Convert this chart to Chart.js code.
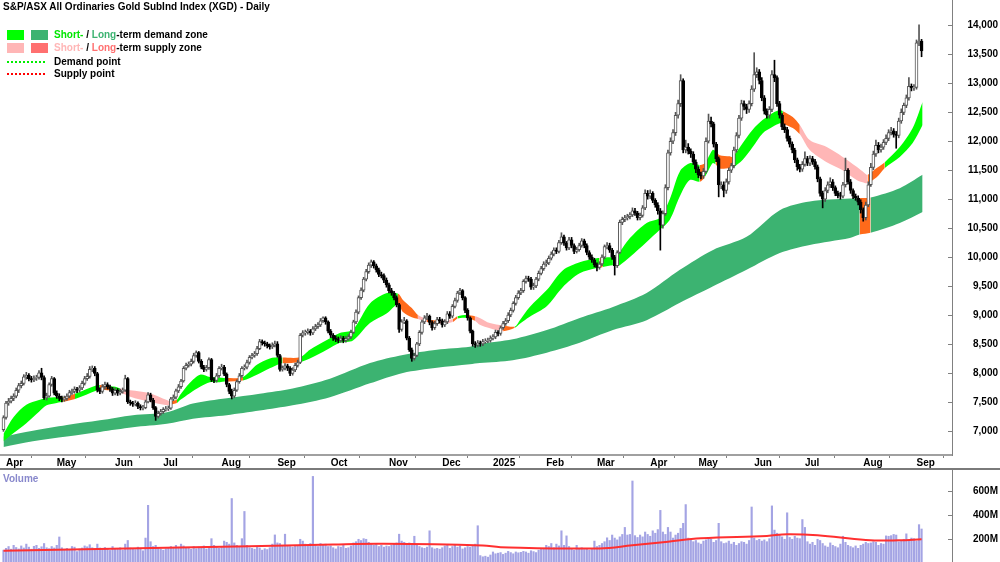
<!DOCTYPE html>
<html><head><meta charset="utf-8">
<script src="https://cdn.jsdelivr.net/npm/chart.js@4.4.1/dist/chart.umd.min.js"></script>
<style>
html,body{margin:0;padding:0;background:#fff;}
#wrap{position:relative;width:1000px;height:562px;overflow:hidden;font-family:"Liberation Sans",Arial,sans-serif;font-weight:bold;font-size:10px;color:#000;}
#c1{position:absolute;left:0;top:0;}
#c2{position:absolute;left:0;top:470px;}
.t{position:absolute;white-space:nowrap;line-height:12px;}
.box{position:absolute;width:17px;height:10px;}
.dot{position:absolute;height:0;width:38px;}
#sep{position:absolute;left:0;top:468px;width:1000px;height:2px;background:#7a7a7a;}
</style></head><body>
<div id="wrap">
<canvas id="c1" width="1000" height="470"></canvas>
<div id="sep"></div>
<canvas id="c2" width="1000" height="92"></canvas>
<div class="t" style="left:3px;top:1px;">S&amp;P/ASX All Ordinaries Gold SubInd Index (XGD) - Daily</div>
<div class="box" style="left:7px;top:30px;background:#00ff00"></div>
<div class="box" style="left:31px;top:30px;background:#3cb371"></div>
<div class="t" style="left:54px;top:29px;"><span style="color:#00e600">Short-</span> / <span style="color:#3cb371">Long</span>-term demand zone</div>
<div class="box" style="left:7px;top:43px;background:#ffb6b6"></div>
<div class="box" style="left:31px;top:43px;background:#ff7070"></div>
<div class="t" style="left:54px;top:42px;"><span style="color:#ffb6b6">Short-</span> / <span style="color:#ff7070">Long</span>-term supply zone</div>
<div class="dot" style="left:7px;top:61px;border-top:2px dotted #00ee00"></div>
<div class="t" style="left:54px;top:56px;">Demand point</div>
<div class="dot" style="left:7px;top:73px;border-top:2px dotted #ff0000"></div>
<div class="t" style="left:54px;top:68px;">Supply point</div>
<div class="t" style="left:3px;top:473px;color:#8888cc">Volume</div>
</div>
<script>
// ---------- DATA ----------
const monthIdx = [1,21,44,63,86,108,129,152,173,193,214,234,255,274,296,316,339,360];
const monthLab = ['Apr','May','Jun','Jul','Aug','Sep','Oct','Nov','Dec','2025','Feb','Mar','Apr','May','Jun','Jul','Aug','Sep'];
const priceTicks = [7000,7500,8000,8500,9000,9500,10000,10500,11000,11500,12000,12500,13000,13500,14000];
const volTicks = [200,400,600];

const open = [7020,7230,7480,7510,7560,7600,7700,7780,7820,7930,7960,7900,7880,7910,7920,8000,7920,7570,7600,7800,7900,7650,7600,7560,7540,7560,7600,7660,7680,7720,7700,7740,7820,7900,7940,8060,8080,7990,7700,7680,7760,7800,7760,7720,7650,7700,7650,7680,7700,7900,7500,7480,7460,7480,7420,7390,7400,7500,7620,7530,7400,7250,7300,7330,7370,7380,7390,7550,7580,7690,7760,7860,8080,8130,8150,8200,8300,8350,8200,8100,8060,8090,8230,7880,7870,7950,8080,8100,7980,7800,7680,7600,7700,7850,7950,8080,8100,8180,8270,8300,8330,8420,8540,8520,8500,8470,8450,8480,8500,8300,8060,8080,8120,8080,7990,8050,8130,8180,8650,8690,8700,8720,8690,8760,8800,8830,8900,8950,8880,8720,8650,8600,8580,8560,8600,8560,8590,8620,8700,8880,9050,9300,9430,9620,9750,9860,9920,9850,9780,9700,9680,9600,9520,9420,9380,9300,9180,8750,8880,8900,8600,8400,8250,8300,8500,8700,8880,8950,8980,8870,8780,8850,8920,8900,8830,8880,9020,8980,9150,9250,9380,9420,9300,9080,8950,8720,8500,8480,8520,8500,8540,8550,8560,8600,8620,8700,8680,8780,8850,8900,9000,9080,9200,9300,9380,9420,9580,9630,9620,9480,9500,9620,9720,9800,9880,9900,9980,10050,10120,10100,10250,10350,10240,10160,10300,10200,10100,10130,10200,10280,10200,10080,10000,9950,9870,9820,9880,10000,10180,10200,10120,10000,9850,10080,10600,10650,10680,10700,10730,10800,10760,10680,10720,10850,11100,11050,11100,10980,10900,10800,10550,10750,11200,11800,12000,12150,12450,12650,13050,11850,11900,11830,11780,11640,11520,11420,11400,11480,12000,12350,12300,11950,11700,11230,11250,11150,11300,11500,11580,11850,12100,12400,12650,12600,12550,12650,12900,13150,13200,13050,12750,12520,12450,12550,13150,13100,12650,12450,12250,12200,12050,11950,11850,11680,11560,11520,11600,11700,11620,11700,11650,11560,11350,11100,11000,11150,11250,11300,11200,11100,11060,11050,11250,11500,11300,11150,11050,11020,10950,10820,10680,10900,11250,11550,11780,11930,11850,11900,11980,12050,12150,12180,12120,12100,12350,12500,12620,12750,12950,12920,12930,13700,13730];
const high = [7260,7510,7560,7600,7640,7740,7820,7860,7970,8010,7990,7940,7950,7960,8040,8080,7950,7650,7830,7940,7920,7690,7640,7600,7600,7640,7700,7720,7760,7750,7780,7860,7940,7990,8110,8120,8110,8010,7740,7800,7840,7830,7790,7750,7740,7730,7720,7740,7960,7920,7530,7510,7520,7500,7450,7440,7530,7660,7650,7560,7420,7340,7370,7400,7420,7430,7580,7620,7720,7800,7890,8110,8170,8190,8240,8340,8380,8370,8230,8130,8130,8260,8250,7920,7990,8110,8150,8130,8000,7820,7720,7740,7880,7990,8110,8140,8220,8300,8340,8370,8460,8580,8570,8550,8530,8500,8520,8550,8540,8320,8120,8160,8150,8110,8090,8170,8220,8680,8730,8740,8760,8750,8800,8840,8870,8940,8970,8970,8900,8750,8680,8640,8620,8640,8630,8630,8660,8740,8910,9090,9330,9470,9650,9790,9900,9950,9940,9880,9810,9740,9710,9640,9550,9460,9410,9330,9200,8920,8960,8920,8630,8430,8340,8530,8730,8910,8990,9030,9000,8900,8890,8960,8960,8930,8920,9060,9060,9180,9290,9410,9460,9440,9320,9110,8970,8740,8540,8560,8550,8580,8590,8600,8640,8660,8740,8730,8810,8890,8940,9040,9120,9230,9340,9420,9460,9610,9670,9670,9650,9550,9650,9760,9840,9920,9950,10020,10090,10160,10160,10290,10420,10380,10270,10340,10340,10230,10170,10240,10320,10310,10230,10110,10040,9980,9900,9920,10040,10210,10250,10240,10150,10030,10110,10640,10690,10720,10740,10770,10850,10840,10790,10760,10890,11160,11150,11160,11130,11010,10940,10840,10800,11250,11850,12060,12200,12500,12710,13150,13080,12020,11960,11870,11820,11680,11560,11470,11530,12060,12470,12420,12330,11980,11730,11300,11300,11350,11540,11620,11900,12150,12450,12710,12700,12640,12700,12960,13530,13270,13240,13100,12790,12560,12600,13220,13400,13130,12690,12480,12300,12240,12090,11990,11880,11710,11600,11650,11820,11740,11750,11740,11690,11590,11380,11140,11200,11300,11370,11340,11230,11140,11120,11290,11710,11530,11340,11180,11090,11060,10990,10850,10950,11300,11620,11830,12020,11980,11950,12030,12110,12200,12240,12220,12170,12400,12560,12660,12800,13100,12990,12980,13750,14010,13760];
const low = [6990,7200,7440,7480,7520,7570,7660,7740,7790,7890,7860,7840,7850,7870,7890,7880,7540,7530,7580,7770,7620,7560,7520,7500,7510,7530,7570,7630,7650,7660,7670,7710,7790,7870,7910,8020,7950,7670,7640,7650,7720,7720,7680,7610,7620,7610,7620,7650,7680,7470,7440,7420,7430,7380,7360,7360,7380,7480,7500,7370,7180,7220,7270,7300,7340,7350,7370,7520,7550,7660,7730,7840,8050,8100,8120,8170,8270,8170,8070,8020,8030,8060,7850,7830,7840,7920,8050,7950,7760,7640,7550,7570,7680,7820,7920,8050,8070,8150,8240,8270,8300,8400,8480,8460,8430,8410,8420,8450,8270,8030,8030,8050,8040,7950,7960,8020,8100,8160,8620,8650,8670,8650,8660,8730,8770,8800,8870,8840,8690,8610,8560,8540,8520,8530,8520,8530,8560,8590,8680,8850,9020,9270,9400,9590,9720,9820,9810,9740,9660,9640,9560,9480,9380,9340,9260,9140,8700,8720,8850,8570,8370,8200,8220,8280,8470,8670,8850,8920,8830,8740,8750,8820,8860,8790,8800,8850,8940,8950,9120,9220,9350,9260,9040,8910,8690,8460,8440,8450,8460,8470,8510,8520,8530,8570,8590,8640,8650,8750,8820,8870,8970,9050,9170,9270,9350,9390,9550,9580,9440,9440,9470,9590,9690,9770,9840,9870,9950,10020,10060,10070,10220,10200,10120,10130,10160,10060,10070,10100,10170,10160,10040,9960,9910,9830,9760,9790,9850,9970,10140,10080,9960,9690,9820,10060,10560,10610,10640,10660,10700,10720,10640,10640,10690,10820,11000,11010,10940,10860,10740,10120,10500,10720,11160,11760,11960,12100,12400,12600,11800,11800,11780,11720,11600,11460,11370,11350,11360,11450,11970,12250,11900,11650,11040,11180,11040,11100,11260,11460,11540,11810,12060,12360,12540,12480,12500,12610,12860,13100,12990,12700,12470,12400,12400,12510,13030,12600,12400,12200,12150,12000,11900,11800,11630,11500,11470,11480,11570,11580,11580,11600,11520,11300,11050,10850,10960,11110,11200,11150,11060,11020,11000,11020,11210,11260,11100,11010,10980,10900,10760,10620,10640,10870,11220,11510,11740,11800,11810,11860,11940,12010,12110,12070,11880,12060,12310,12460,12580,12710,12870,12880,12900,13650,13460];
const close = [7230,7480,7510,7560,7600,7700,7780,7820,7930,7960,7900,7880,7910,7920,8000,7920,7570,7600,7800,7900,7650,7600,7560,7540,7560,7600,7660,7680,7720,7700,7740,7820,7900,7940,8060,8080,7990,7700,7680,7760,7800,7760,7720,7650,7700,7650,7680,7700,7900,7500,7480,7460,7480,7420,7400,7400,7500,7620,7530,7400,7250,7300,7330,7370,7380,7390,7550,7580,7690,7760,7860,8080,8130,8150,8200,8300,8350,8200,8100,8060,8090,8230,7880,7870,7950,8080,8100,7980,7800,7680,7600,7700,7850,7950,8080,8100,8180,8270,8300,8330,8420,8540,8520,8500,8470,8450,8480,8500,8300,8060,8080,8120,8080,7990,8050,8130,8180,8650,8690,8700,8720,8690,8760,8800,8830,8900,8950,8880,8720,8650,8600,8580,8560,8600,8560,8590,8620,8700,8880,9050,9300,9430,9620,9750,9860,9920,9850,9780,9700,9680,9600,9520,9420,9380,9300,9180,8750,8880,8900,8600,8400,8250,8300,8500,8700,8880,8950,8980,8870,8780,8850,8920,8900,8830,8880,9020,8980,9150,9250,9380,9420,9300,9080,8950,8720,8500,8480,8520,8500,8540,8550,8560,8600,8620,8700,8680,8780,8850,8900,9000,9080,9200,9300,9380,9420,9580,9630,9620,9480,9500,9620,9720,9800,9880,9900,9980,10050,10120,10100,10250,10350,10240,10160,10300,10200,10100,10130,10200,10280,10200,10080,10000,9950,9870,9820,9880,10000,10180,10200,10120,10000,9850,10080,10600,10650,10680,10700,10730,10800,10760,10680,10720,10850,11100,11050,11100,10980,10900,10800,10550,10750,11200,11800,12000,12150,12450,12650,13050,11850,11900,11830,11780,11640,11520,11420,11400,11480,12000,12350,12300,11950,11700,11250,11250,11150,11300,11500,11580,11850,12100,12400,12650,12600,12550,12650,12900,13150,13200,13050,12750,12520,12450,12550,13150,13100,12650,12450,12250,12200,12050,11950,11850,11680,11560,11520,11600,11700,11620,11700,11650,11560,11350,11100,11000,11150,11250,11300,11200,11100,11060,11050,11250,11500,11300,11150,11050,11020,10950,10820,10680,10900,11250,11550,11780,11930,11850,11900,11980,12050,12150,12180,12120,12100,12350,12500,12620,12750,12950,12920,12930,13700,13730,13560];
const volume = [110,125,140,118,150,132,120,145,128,160,135,118,142,150,125,138,165,130,122,140,128,
150,219,130,118,125,110,140,135,98,120,128,145,138,155,130,122,160,128,115,132,120,108,140,
125,118,130,110,160,190,128,122,115,135,120,105,210,481,180,140,150,125,118,110,122,130,
140,128,150,135,160,145,130,125,118,140,122,135,128,145,120,132,205,150,138,125,
140,185,175,160,537,170,150,140,205,430,150,130,125,118,135,128,110,122,115,130,160,236,170,
165,150,242,150,140,135,150,145,200,185,160,150,165,720,150,140,165,150,160,140,
145,130,120,140,135,150,125,130,145,170,180,200,190,205,200,175,160,150,165,140,150,135,145,
140,150,160,170,242,185,175,165,170,160,225,150,140,130,125,135,270,130,120,125,118,
130,145,150,125,140,150,135,145,120,130,140,135,145,160,312,65,55,60,52,70,
95,80,85,90,75,85,100,90,80,95,
88,92,100,95,85,105,98,90,110,120,
125,150,140,165,130,160,145,270,150,228,
140,120,110,150,125,130,115,120,110,125,
185,140,150,165,180,212,190,235,210,195,
220,240,298,235,240,682,230,215,235,220,
260,240,225,270,250,280,439,260,240,298,
260,210,235,250,290,332,487,210,200,180,
190,170,160,185,195,210,200,175,190,332,
180,165,170,185,160,175,150,165,180,175,
160,190,467,210,190,200,185,195,180,205,
476,276,250,240,220,200,419,215,200,225,
210,205,363,298,180,160,175,150,200,190,
165,145,135,170,150,140,130,160,225,175,
150,140,130,145,125,150,160,175,165,170,
180,175,150,165,160,228,225,230,240,235,
180,190,200,245,195,210,205,185,321,285];
const volMaIdx = [0,64,130,150,189,196,235,248,262,275,301,309,321,340,353,362];
const volMa = [106,129,157,162,148,135,124,150,180,208,228,242,233,194,191,200];

// short-term zone (read at selected days)
const stIdx = [0,4,9,14,17,21,23.5,28.2,37,38,42,44,46,50,57.7,64.4,65.6,68.4,69.6,73.5,77.5,81.4,85.3,87.3,94.4,99.9,105,109,110,116.9,120.8,127.5,132.6,137.8,144.5,151.2,155.5,157.5,161,163.4,167,172,177.2,179,182.7,185.9,187.8,191.8,197,201.6,203.6,207.5,214.2,220.5,227.2,233.9,235,236.3,240.3,241.8,243,247,253.6,258.8,262.7,266.7,270.6,274.5,276.5,279.6,280.8,282.4,286.4,287.5,291.5,295.4,299.4,303.3,306.1,307.3,311.2,314,317.9,324.6,330.9,336.4,339.6,340.7,344.3,347.5,353.4,358.5,362.4];
const stUp = [6950,7240,7450,7530,7570,7580,7580,7640,7790,7790,7770,7760,7730,7700,7650,7530,7510,7540,7620,7830,7970,7930,7920,7910,7930,8140,8250,8270,8265,8270,8400,8570,8690,8750,9200,9380,9370,9260,9120,9000,8930,8900,8930,8980,9000,8980,8950,8860,8820,8800,8910,9140,9430,9770,9910,9980,9985,9990,10000,10020,10090,10330,10590,10680,11000,11480,11620,11590,11620,11850,11830,11760,11740,11730,11970,12200,12370,12490,12540,12520,12420,12280,12020,11900,11730,11560,11450,11420,11540,11640,11900,12230,12680];
const stLo = [6820,6960,7130,7330,7440,7480,7500,7550,7700,7705,7700,7690,7660,7590,7500,7440,7450,7480,7530,7650,7760,7840,7840,7850,7870,7970,8080,8160,8165,8190,8250,8400,8520,8560,8860,9030,9180,9050,8960,8930,8880,8850,8880,8940,8950,8900,8830,8770,8720,8780,8850,8970,9150,9480,9720,9810,9815,9830,9860,9860,9860,10000,10260,10470,10640,11050,11330,11300,11380,11620,11600,11530,11540,11540,11680,11900,12140,12250,12310,12300,12230,12120,11850,11640,11500,11330,11280,11280,11380,11540,11730,11970,12280];
const stZone = ('GGGGGGOGGO'+'GGPPPPOGGG'+'GGGOGGGGOG'+'GGGGGGOOOP'+'OPOGOPPPOG'+'GGGGGGOGOG'+'GGGGGGGOGG'+'OOOGGGGGGO'+'OPPPPPPOOG'+'GGG').split('');

// long-term zone
const ltIdx = [0,11.6,25,38,51,64.4,74.7,88,101,114,128.7,144.5,157.5,170.9,183.9,187.8,200.8,214.2,227.2,240.3,253.6,266.7,279.6,293,306.1,317.9,333.7,337.6,341.9,353.4,362.4];
const ltUp = [6900,7000,7100,7180,7270,7320,7470,7560,7640,7730,7900,8170,8310,8400,8450,8500,8580,8740,8950,9140,9380,9780,10120,10350,10810,10960,11010,11020,11030,11190,11420];
const ltLo = [6720,6820,6900,6980,7060,7120,7210,7270,7350,7440,7580,7820,8000,8090,8150,8170,8220,8350,8520,8740,8910,9210,9490,9780,10070,10210,10330,10390,10420,10590,10780];
const ltZone = ('GGGGGGGGGG'+'GGGGGGGGGG'+'GGGGGGGOGG'+'G').split('');

// ---------- CHART ----------
const FONT = '"Liberation Sans", Arial, sans-serif';
Chart.defaults.font.family = FONT;
Chart.defaults.font.size = 10;
Chart.defaults.font.weight = 'bold';
Chart.defaults.color = '#000';
const X_MIN = -1.38, X_MAX = 374.0;
const stColors = {G:'#00ff00', P:'#ffb6b6', O:'#ff6a1a'};
const ltColors = {G:'#3cb371', P:'#ff7070', O:'#ff6a1a'};
const pts = (xs, ys) => xs.map((x,k)=>({x:x, y:ys[k]}));
function band(xs, up, lo, zone, colors, order){
  return [
    {type:'line', data:pts(xs, up), fill:'+1', borderColor:'rgba(0,0,0,0)', borderWidth:0, pointRadius:0, tension:0.3, order:order,
     backgroundColor:colors.G, segment:{backgroundColor: c => colors[zone[c.p0DataIndex]]}},
    {type:'line', data:pts(xs, lo), fill:false, borderColor:'rgba(0,0,0,0)', borderWidth:0, pointRadius:0, tension:0.3, order:order}
  ];
}
const innerTicks = {
  id:'innerTicks',
  afterDraw(chart){
    const s = chart.scales.y, ctx = chart.ctx;
    ctx.save(); ctx.strokeStyle = '#808080'; ctx.lineWidth = 1;
    s.ticks.forEach(t => { const py = Math.round(s.getPixelForValue(t.value)) + 0.5;
      ctx.beginPath(); ctx.moveTo(s.left - 4, py); ctx.lineTo(s.left, py); ctx.stroke(); });
    ctx.restore();
  }
};
const idxs = close.map((c,i)=>i);
const isUp = i => close[i] >= open[i];

new Chart(document.getElementById('c1'), {
  type:'bar',
  data:{datasets:[
    ...band(ltIdx, ltUp, ltLo, ltZone, ltColors, 6),
    ...band(stIdx, stUp, stLo, stZone, stColors, 5),
    {label:'wick', data: idxs.map(i=>({x:i, y:[low[i], high[i]]})), barThickness:1, grouped:false, order:2,
     backgroundColor: c => isUp(c.dataIndex) ? '#555' : '#000', borderWidth:0},
    {label:'body', data: idxs.map(i=>({x:i, y:[open[i], close[i]]})), barThickness:3, grouped:false, order:1,
     backgroundColor: c => isUp(c.dataIndex) ? '#fff' : '#000',
     borderColor: c => isUp(c.dataIndex) ? '#555' : '#000', borderWidth:1, borderSkipped:false}
  ]},
  options:{
    responsive:false, animation:false, devicePixelRatio:1, events:[],
    layout:{padding:{left:0,right:2,top:0,bottom:0}},
    plugins:{legend:{display:false}, tooltip:{enabled:false}},
    scales:{
      x:{type:'linear', min:X_MIN, max:X_MAX, offset:false, position:'bottom',
        grid:{display:true, drawOnChartArea:false, drawTicks:true, tickLength:3, color:'#808080'},
        border:{display:true, color:'#a0a0a0', width:2},
        afterBuildTicks: s => { s.ticks = monthIdx.map(v=>({value:v})); },
        afterFit: s => { s.height = 15; s.paddingLeft = 0; s.paddingRight = 0; },
        ticks:{autoSkip:false, maxRotation:0, minRotation:0, align:'start', padding:-1,
          font:{family:FONT, size:10, weight:'bold'}, callback:(v,i)=>monthLab[i]}
      },
      y:{type:'linear', position:'right', min:6582, max:14440,
        afterBuildTicks: s => { s.ticks = priceTicks.map(v=>({value:v})); },
        afterFit: s => { s.width = 46; s.paddingTop = 0; s.paddingBottom = 0; },
        grid:{display:true, drawOnChartArea:false, drawTicks:false},
        border:{display:true, color:'#808080', width:1},
        ticks:{crossAlign:'far', padding:0, font:{family:FONT, size:10, weight:'bold'},
          callback: v => Number(v).toLocaleString('en-US')}
      }
    }
  },
  plugins:[innerTicks]
});

new Chart(document.getElementById('c2'), {
  type:'bar',
  data:{datasets:[
    {type:'line', data:pts(volMaIdx, volMa), borderColor:'#ff3030', borderWidth:2, pointRadius:0, tension:0.4, fill:false, order:0},
    {data: volume.map((v,i)=>({x:i, y:v})), backgroundColor:'#a4a4e4', barThickness:1.5, grouped:false, order:1}
  ]},
  options:{
    responsive:false, animation:false, devicePixelRatio:1, events:[],
    layout:{padding:{left:0,right:2,top:0,bottom:0}},
    plugins:{legend:{display:false}, tooltip:{enabled:false}},
    scales:{
      x:{type:'linear', min:X_MIN, max:X_MAX, offset:false, display:false},
      y:{type:'linear', position:'right', min:12, max:773,
        afterBuildTicks: s => { s.ticks = volTicks.map(v=>({value:v})); },
        afterFit: s => { s.width = 46; s.paddingTop = 0; s.paddingBottom = 0; },
        grid:{display:true, drawOnChartArea:false, drawTicks:false},
        border:{display:true, color:'#808080', width:1},
        ticks:{crossAlign:'far', padding:0, font:{family:FONT, size:10, weight:'bold'}, callback: v => v + 'M'}
      }
    }
  },
  plugins:[innerTicks]
});
</script>
</body></html>
